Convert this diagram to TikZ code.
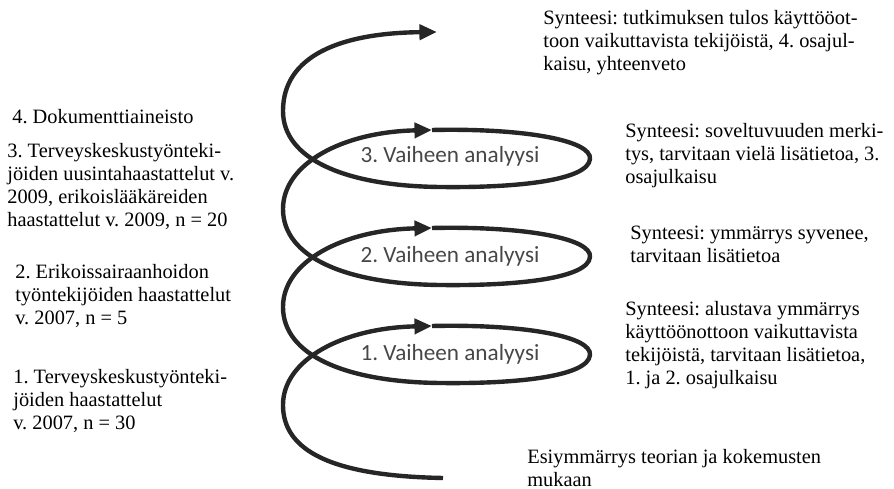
\documentclass[tikz,border=0pt]{standalone}
\usepackage{fontspec}
\setmainfont{Liberation Serif}
\newfontfamily\phasefont{Carlito}
\usetikzlibrary{arrows.meta}
\frenchspacing

\tikzset{
  spiral/.style={line width=2.5pt, black!85},
  tip/.style={-{Triangle[length=10pt,width=8.5pt]}},
  phase/.style={font=\phasefont\fontsize{13.2}{15}\selectfont, text=black!72, inner sep=0pt},
  info/.style={font=\fontsize{11.6}{13}\selectfont, align=left, anchor=north west, inner sep=0pt}
}

\begin{document}
\begin{tikzpicture}[x=0.02cm,y=-0.02cm]
  \useasboundingbox (0,0) rectangle (894,489);
  % spiral points
  \coordinate (start) at (443,478);
  \foreach \k/\d in {1/0,2/98,3/196} {
    \coordinate (low\k) at (283,{405-\d});
    \coordinate (arr\k) at (432,{326-\d});
    \coordinate (tipr\k) at (590,{355-\d});
    \coordinate (bot\k) at (440,{383-\d});
  }
  \coordinate (low4) at (283,111);
  \coordinate (end) at (437,32);
  % spiral
  \draw[spiral] (start) .. controls +(-113,-2) and +(0,45) .. (low1);
  \foreach \k [evaluate=\k as \n using int(\k+1)] in {1,2,3} {
    \draw[spiral,tip] (low\k) .. controls +(0,-45) and +(-90,2) .. (arr\k);
    \draw[spiral] (arr\k) .. controls +(90,-2) and +(2,-19) .. (tipr\k)
      .. controls +(-2,21) and +(80,1) .. (bot\k)
      .. controls +(-95,-1) and +(0,48) .. (low\n);
  }
  \draw[spiral,tip] (low4) .. controls +(0,-56) and +(-95,1) .. (end);
  % phases
  \node[phase] (phase1) at (450,354) {1. Vaiheen analyysi};
  \node[phase] (phase2) at (450,256) {2. Vaiheen analyysi};
  \node[phase] (phase3) at (450,156) {3. Vaiheen analyysi};
  % data
  \node[info] (doc) at (12,109) {4. Dokumenttiaineisto};
  \node[info] (int3) at (7,143) {3. Terveyskeskustyönteki-\\jöiden uusintahaastattelut v.\\2009, erikoislääkäreiden\\haastattelut v. 2009, n = 20};
  \node[info] (int2) at (15,264) {2. Erikoissairaanhoidon\\työntekijöiden haastattelut\\v. 2007, n = 5};
  \node[info] (int1) at (13,369) {1. Terveyskeskustyönteki-\\jöiden haastattelut\\v. 2007, n = 30};
  % syntheses
  \node[info] (syn4) at (543,10) {Synteesi: tutkimuksen tulos käyttööot-\\toon vaikuttavista tekijöistä, 4. osajul-\\kaisu, yhteenveto};
  \node[info] (syn3) at (625,123) {Synteesi: soveltuvuuden merki-\\tys, tarvitaan vielä lisätietoa, 3.\\osajulkaisu};
  \node[info] (syn2) at (630,226) {Synteesi: ymmärrys syvenee,\\tarvitaan lisätietoa};
  \node[info] (syn1) at (625,301) {Synteesi: alustava ymmärrys\\käyttöönottoon vaikuttavista\\tekijöistä, tarvitaan lisätietoa,\\1. ja 2. osajulkaisu};
  \node[info] (pre) at (527,449) {Esiymmärrys teorian ja kokemusten\\mukaan};
\end{tikzpicture}
\end{document}
